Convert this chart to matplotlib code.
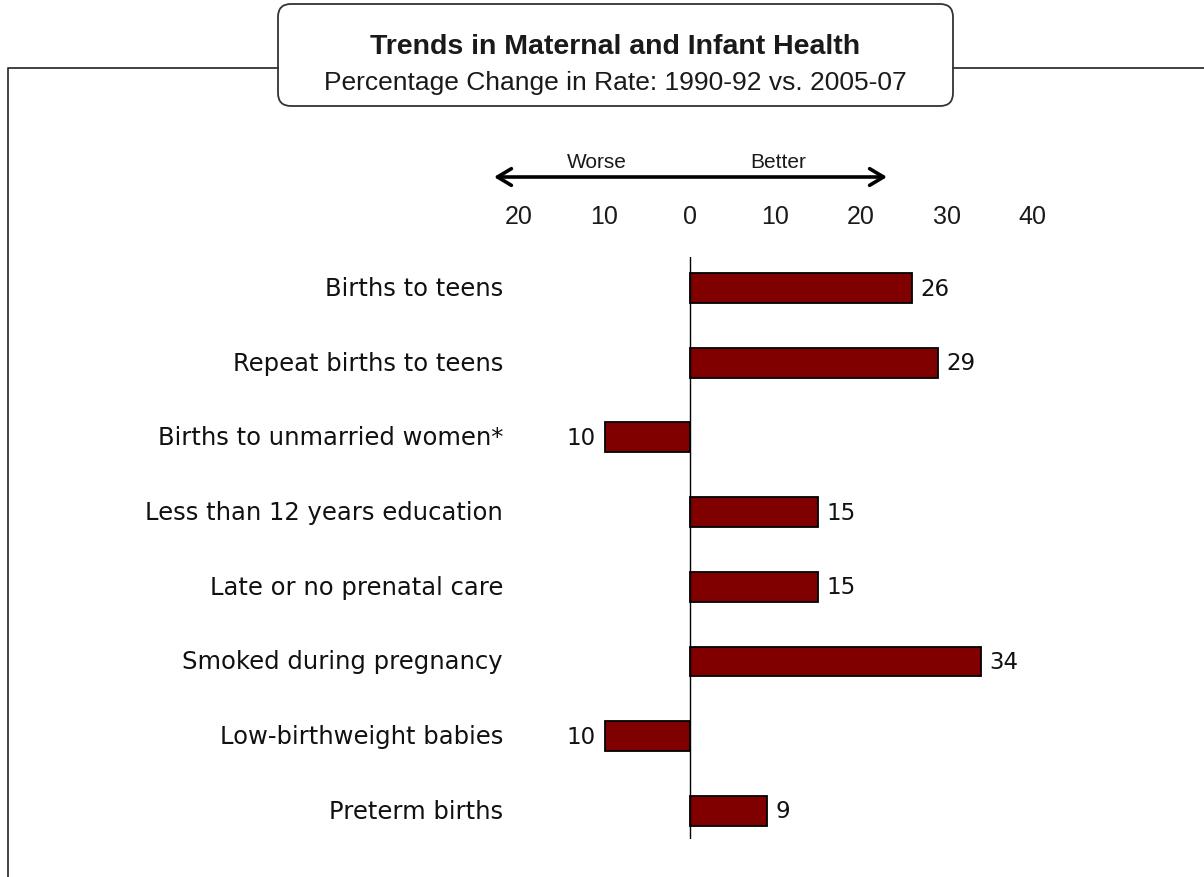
import matplotlib
matplotlib.use("Agg")
import matplotlib.pyplot as plt
from matplotlib.patches import FancyBboxPatch
from matplotlib.lines import Line2D

categories = ["Births to teens", "Repeat births to teens", "Births to unmarried women*",
              "Less than 12 years education", "Late or no prenatal care",
              "Smoked during pregnancy", "Low-birthweight babies", "Preterm births"]
# positive = better, negative = worse
values = [26, 29, -10, 15, 15, 34, -10, 9]
tick_vals = [-20, -10, 0, 10, 20, 30, 40]
tick_labels = ["20", "10", "0", "10", "20", "30", "40"]

title = "Trends in Maternal and Infant Health"
subtitle = "Percentage Change in Rate: 1990-92 vs. 2005-07"

bar_color = "#800000"
label_font = "DejaVu Sans"
head_font = "Liberation Sans"

fig = plt.figure(figsize=(12.04, 8.78), dpi=100)
W, H = 1204, 878

# outer frame and title box, in inches
inch = fig.dpi_scale_trans
frame_y = (H - 69) / 100
fig.add_artist(Line2D([2.78, 0.08, 0.08], [frame_y, frame_y, 0], transform=inch,
                      color="#333333", lw=1.3))
fig.add_artist(Line2D([9.53, 12.04], [frame_y, frame_y], transform=inch,
                      color="#333333", lw=1.3))
box = FancyBboxPatch((2.78, (H - 107) / 100), 6.75, 1.02, transform=inch,
                     boxstyle="round,pad=0,rounding_size=0.13",
                     facecolor="white", edgecolor="#333333", lw=1.3)
fig.add_artist(box)
fig.text(6.155, (H - 47) / 100, title, transform=inch, ha="center", va="center",
         fontsize=20.5, fontweight="bold", family=head_font, color="#1a1a1a")
fig.text(6.155, (H - 83) / 100, subtitle, transform=inch, ha="center", va="center",
         fontsize=19, family=head_font, color="#1a1a1a")

# bar axes
px = 8.55  # pixels per unit
left_px, right_px, top_px, bot_px = 460, 1100, 258, 840
ax = fig.add_axes([left_px / W, (H - bot_px) / H, (right_px - left_px) / W, (bot_px - top_px) / H])
ax.set_xlim((left_px - 690) / px, (right_px - 690) / px)
c0, step = 289, 74.7
ax.set_ylim((bot_px - c0) / step, (top_px - c0) / step)

ys = list(range(len(categories)))
ax.barh(ys, values, height=0.4, color=bar_color, edgecolor="black", lw=1.3, zorder=3)
ax.axvline(0, color="black", lw=1, zorder=4)

for y, cat, v in zip(ys, categories, values):
    ax.text((503 - 690) / px, y, cat, ha="right", va="center", fontsize=17.5,
            family=label_font, color="#111111")
    if v >= 0:
        ax.text(v + 1, y, str(abs(v)), ha="left", va="center", fontsize=16.5,
                family=label_font, color="#111111")
    else:
        ax.text(v - 1, y, str(abs(v)), ha="right", va="center", fontsize=16.5,
                family=label_font, color="#111111")

for s in ax.spines.values():
    s.set_visible(False)
ax.set_yticks([])
ax.xaxis.tick_top()
ax.set_xticks(tick_vals)
ax.set_xticklabels(tick_labels, family=head_font, fontsize=18, color="#1a1a1a")
ax.tick_params(axis="x", length=0, pad=21)

# Worse / Better arrow
tr = ax.get_xaxis_transform()
ay = (bot_px - 178) / (bot_px - top_px)
ax.annotate("", xy=((887 - 690) / px, ay), xytext=((494 - 690) / px, ay),
            xycoords=tr, textcoords=tr, annotation_clip=False,
            arrowprops=dict(arrowstyle="<->,head_length=1.0,head_width=0.6",
                            color="black", lw=2.6, shrinkA=0, shrinkB=0))
ty = (bot_px - 162) / (bot_px - top_px)
ax.text((597 - 690) / px, ty, "Worse", transform=tr,
        ha="center", va="center", fontsize=15, family=head_font, color="#1a1a1a")
ax.text((778 - 690) / px, ty, "Better", transform=tr,
        ha="center", va="center", fontsize=15, family=head_font, color="#1a1a1a")

fig.savefig("out.png", dpi=100)
